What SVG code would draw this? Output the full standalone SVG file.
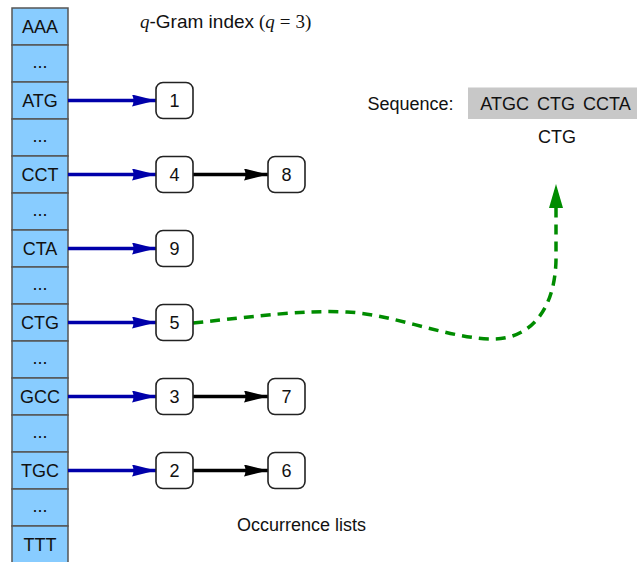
<svg xmlns="http://www.w3.org/2000/svg" width="637" height="562" viewBox="0 0 637 562">
<style>
.cell{fill:#88ccff;stroke:#555;stroke-width:1.5}
.lbl{font-family:"Liberation Sans",Arial,sans-serif;font-size:18px;fill:#111;text-anchor:middle}
.node rect{fill:#fff;stroke:#222;stroke-width:1.6}
.blue{stroke:#0000aa;stroke-width:3.4;fill:none}
.blk{stroke:#000;stroke-width:3.4;fill:none}
.grn{stroke:#008c00;stroke-width:3.5;fill:none;stroke-dasharray:10 7}
.serif{font-family:"Liberation Serif","Times New Roman",serif}
</style>
<defs>
<marker id="ab" markerUnits="userSpaceOnUse" markerWidth="26" markerHeight="14" refX="24" refY="6" orient="auto"><path d="M0,0 L24,6 L0,12 Q3,6 0,0z" fill="#0000aa"/></marker>
<marker id="ak" markerUnits="userSpaceOnUse" markerWidth="26" markerHeight="14" refX="24" refY="6" orient="auto"><path d="M0,0 L24,6 L0,12 Q3,6 0,0z" fill="#000"/></marker>
<marker id="ag" markerUnits="userSpaceOnUse" markerWidth="26" markerHeight="16" refX="24" refY="7" orient="auto"><path d="M0,0 L24,7 L0,14 z" fill="#008c00"/></marker>
</defs>
<rect width="637" height="562" fill="#fff"/>
<g id="table">
<rect class="cell" x="12" y="8" width="56" height="37"/>
<rect class="cell" x="12" y="45" width="56" height="37"/>
<rect class="cell" x="12" y="82" width="56" height="37"/>
<rect class="cell" x="12" y="119" width="56" height="37"/>
<rect class="cell" x="12" y="156" width="56" height="37"/>
<rect class="cell" x="12" y="193" width="56" height="37"/>
<rect class="cell" x="12" y="230" width="56" height="37"/>
<rect class="cell" x="12" y="267" width="56" height="37"/>
<rect class="cell" x="12" y="304" width="56" height="37"/>
<rect class="cell" x="12" y="341" width="56" height="37"/>
<rect class="cell" x="12" y="378" width="56" height="37"/>
<rect class="cell" x="12" y="415" width="56" height="37"/>
<rect class="cell" x="12" y="452" width="56" height="37"/>
<rect class="cell" x="12" y="489" width="56" height="37"/>
<rect class="cell" x="12" y="526" width="56" height="40"/>
<text class="lbl" x="40" y="33">AAA</text>
<text class="lbl" x="40" y="68">...</text>
<text class="lbl" x="40" y="107">ATG</text>
<text class="lbl" x="40" y="142">...</text>
<text class="lbl" x="40" y="181">CCT</text>
<text class="lbl" x="40" y="216">...</text>
<text class="lbl" x="40" y="255">CTA</text>
<text class="lbl" x="40" y="290">...</text>
<text class="lbl" x="40" y="329">CTG</text>
<text class="lbl" x="40" y="364">...</text>
<text class="lbl" x="40" y="403">GCC</text>
<text class="lbl" x="40" y="438">...</text>
<text class="lbl" x="40" y="477">TGC</text>
<text class="lbl" x="40" y="512">...</text>
<text class="lbl" x="40" y="551">TTT</text>
</g>
<g id="title" fill="#111" font-size="19"><text x="140" y="28"><tspan class="serif" font-style="italic">q</tspan><tspan font-family="Liberation Sans, sans-serif">-Gram index</tspan></text><text class="serif" x="259" y="28">(<tspan font-style="italic">q</tspan><tspan dx="5">=</tspan><tspan dx="5">3)</tspan></text></g>
<g id="connectors">
<line class="blue" x1="68" y1="100.5" x2="156" y2="100.5" marker-end="url(#ab)"/>
<line class="blue" x1="68" y1="174.5" x2="156" y2="174.5" marker-end="url(#ab)"/>
<line class="blue" x1="68" y1="248.5" x2="156" y2="248.5" marker-end="url(#ab)"/>
<line class="blue" x1="68" y1="322.5" x2="156" y2="322.5" marker-end="url(#ab)"/>
<line class="blue" x1="68" y1="396.5" x2="156" y2="396.5" marker-end="url(#ab)"/>
<line class="blue" x1="68" y1="470.5" x2="156" y2="470.5" marker-end="url(#ab)"/>
<line class="blk" x1="193" y1="174.5" x2="268" y2="174.5" marker-end="url(#ak)"/>
<line class="blk" x1="193" y1="396.5" x2="268" y2="396.5" marker-end="url(#ak)"/>
<line class="blk" x1="193" y1="470.5" x2="268" y2="470.5" marker-end="url(#ak)"/>
<path class="grn" d="M193,323 C260,316 300,310 347,312 C393,314 450,339 493,339 C530,339 555,310 556,260 L556,184" marker-end="url(#ag)"/>
</g>
<g id="n1" class="node"><rect x="156" y="82.5" width="37" height="36" rx="7"/><text class="lbl" x="174.5" y="107">1</text></g>
<g id="n4" class="node"><rect x="156" y="156.5" width="37" height="36" rx="7"/><text class="lbl" x="174.5" y="181">4</text></g>
<g id="n8" class="node"><rect x="268" y="156.5" width="37" height="36" rx="7"/><text class="lbl" x="286.5" y="181">8</text></g>
<g id="n9" class="node"><rect x="156" y="230.5" width="37" height="36" rx="7"/><text class="lbl" x="174.5" y="255">9</text></g>
<g id="n5" class="node"><rect x="156" y="304.5" width="37" height="36" rx="7"/><text class="lbl" x="174.5" y="329">5</text></g>
<g id="n3" class="node"><rect x="156" y="378.5" width="37" height="36" rx="7"/><text class="lbl" x="174.5" y="403">3</text></g>
<g id="n7" class="node"><rect x="268" y="378.5" width="37" height="36" rx="7"/><text class="lbl" x="286.5" y="403">7</text></g>
<g id="n2" class="node"><rect x="156" y="452.5" width="37" height="36" rx="7"/><text class="lbl" x="174.5" y="477">2</text></g>
<g id="n6" class="node"><rect x="268" y="452.5" width="37" height="36" rx="7"/><text class="lbl" x="286.5" y="477">6</text></g>
<g id="sequence">
<text class="lbl" x="410.5" y="110" font-size="18.5">Sequence:</text>
<rect x="468" y="87.5" width="169" height="31.5" fill="#c8c8c8"/>
<text class="lbl" x="555.5" y="110" font-size="18.5" word-spacing="3">ATGC CTG CCTA</text>
<text class="lbl" x="557" y="143">CTG</text>
</g>
<g id="caption"><text class="lbl" x="301.5" y="531">Occurrence lists</text></g>
</svg>
